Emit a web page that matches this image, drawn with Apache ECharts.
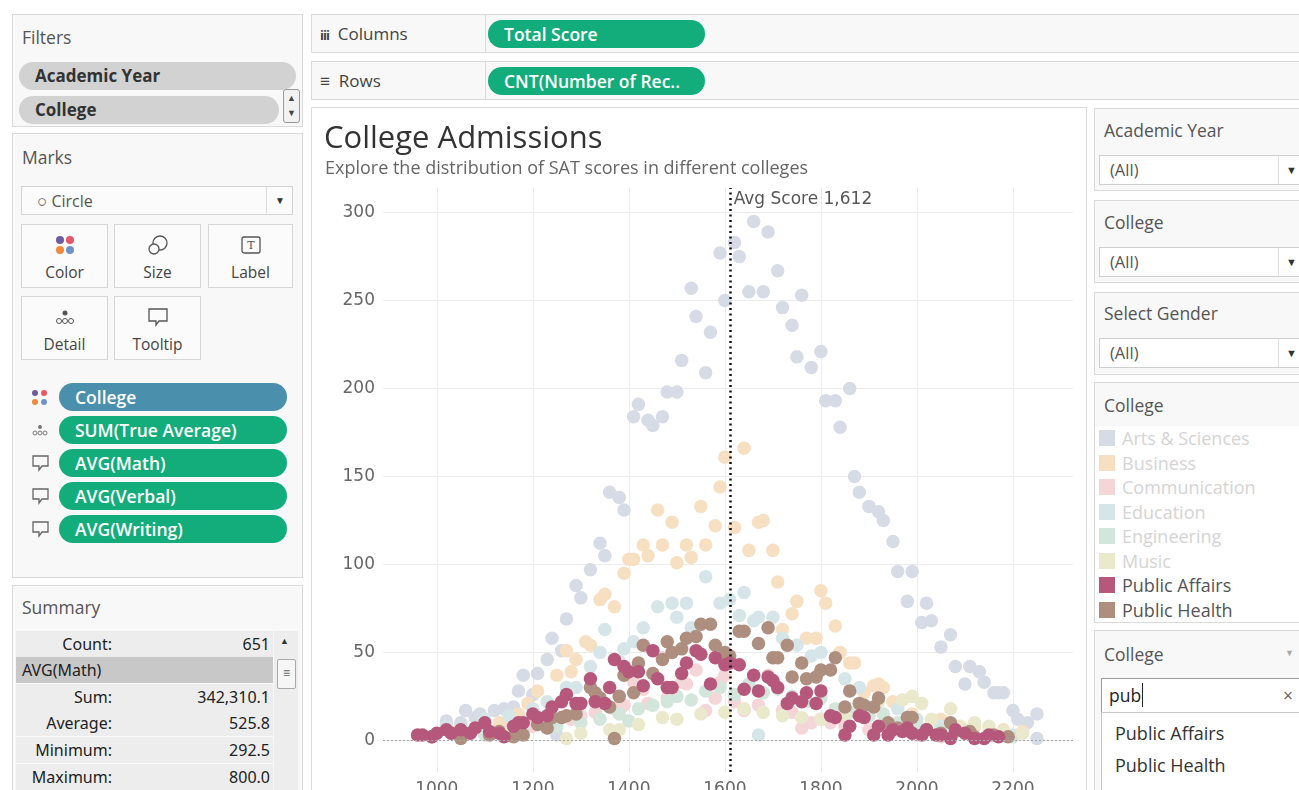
<!DOCTYPE html>
<html>
<head>
<meta charset="utf-8">
<script src="https://cdn.jsdelivr.net/npm/echarts@6/dist/echarts.min.js"></script>
<style>
  body { margin: 0; width: 1299px; height: 790px; overflow: hidden; background: #fff; position: relative;
         font-family: "Open Sans", sans-serif; color: #555; }
  .abs { position: absolute; }
  .card { position: absolute; box-sizing: border-box; border: 1px solid #dadada; background: #f8f8f8; }
  .ttl { position: absolute; font-size: 17.5px; color: #555; line-height: 20px; }
  .greypill { position: absolute; height: 28px; border-radius: 14px; background: #d2d2d2; color: #333;
              font-weight: 700; font-size: 17px; line-height: 28px; padding-left: 16px; box-sizing: border-box; }
  .pill { position: absolute; height: 28px; border-radius: 14px; background: #13ad7c; color: #fff;
          font-weight: 600; font-size: 17.5px; line-height: 28px; padding-left: 16px; box-sizing: border-box; white-space: nowrap; }
  .btn { position: absolute; height: 64px; box-sizing: border-box; border: 1px solid #d6d6d6; background: #fbfbfb;
         text-align: center; font-size: 15.5px; color: #444; }
  .btn svg { position: absolute; left: 50%; top: 9px; margin-left: -11px; }
  .btn span { position: absolute; left: 0; right: 0; bottom: 4px; }
  .sumrow { position: absolute; left: 16px; width: 257px; height: 26px; background: #ededed; font-family: "Noto Sans", sans-serif;
            font-size: 16px; color: #222; line-height: 26px; }
  .sumrow .l { position: absolute; right: 161px; }
  .sumrow .v { position: absolute; right: 3px; }
  .drop { position: absolute; left: 1099px; width: 210px; height: 30px; box-sizing: border-box; border: 1px solid #cfcfcf;
          background: #fff; font-size: 16.5px; color: #555; line-height: 28px; padding-left: 10px; }
  .drop:after { content: ""; position: absolute; left: 178px; top: 0; bottom: 0; border-left: 1px solid #e2e2e2; }
  .drop b { position: absolute; left: 186px; top: 0; font-size: 11px; color: #333; }
  .leg { position: absolute; left: 1099px; height: 20px; font-size: 18px; line-height: 20px; }
  .leg i { position: absolute; left: 0; top: 2px; width: 16px; height: 16px; }
  .leg span { position: absolute; left: 23px; white-space: nowrap; }
</style>
</head>
<body>
<!-- left: filters -->
<div class="card" style="left:12px;top:14px;width:291px;height:113px"></div>
<div class="ttl" style="left:22px;top:27px">Filters</div>
<div class="greypill" style="left:19px;top:62px;width:277px">Academic Year</div>
<div class="greypill" style="left:19px;top:96px;width:260px">College</div>
<div class="abs" style="left:283px;top:89px;width:17px;height:34px;border:1px solid #999;border-radius:3px;background:#f2f2f2;box-sizing:border-box;font-size:9px;line-height:15px;text-align:center;color:#444">▲<br>▼</div>

<!-- left: marks -->
<div class="card" style="left:12px;top:133px;width:291px;height:445px"></div>
<div class="ttl" style="left:22px;top:147px">Marks</div>
<div class="abs" style="left:21px;top:186px;width:272px;height:29px;border:1px solid #d3d3d3;background:#fbfbfb;box-sizing:border-box;font-size:16px;line-height:27px;color:#555;padding-left:15px"><span style="font-size:17px">○</span> Circle
  <span style="position:absolute;left:244px;top:0;bottom:0;border-left:1px solid #dedede"></span>
  <span style="position:absolute;left:253px;top:0;font-size:10px;color:#333">▼</span></div>
<div class="btn" style="left:21px;top:224px;width:87px">
  <svg width="22" height="22"><circle cx="6" cy="6" r="4" fill="#6f5a9c"/><circle cx="16" cy="6" r="4" fill="#e8566b"/><circle cx="6" cy="16" r="4" fill="#f08a3c"/><circle cx="16" cy="16" r="4" fill="#6f93c9"/></svg>
  <span>Color</span></div>
<div class="btn" style="left:114px;top:224px;width:87px">
  <svg width="22" height="22"><circle cx="13" cy="9" r="7" fill="none" stroke="#555" stroke-width="1.3"/><circle cx="7" cy="15" r="5" fill="#fbfbfb" stroke="#555" stroke-width="1.3"/></svg>
  <span>Size</span></div>
<div class="btn" style="left:208px;top:224px;width:85px">
  <svg width="22" height="22"><rect x="2" y="3" width="18" height="16" rx="2" fill="none" stroke="#555" stroke-width="1.3"/><text x="11" y="15" font-size="11" text-anchor="middle" fill="#555" font-family="DejaVu Serif">T</text></svg>
  <span>Label</span></div>
<div class="btn" style="left:21px;top:296px;width:87px">
  <svg width="22" height="22"><circle cx="11" cy="7" r="2.5" fill="#555"/><circle cx="5" cy="15" r="2.5" fill="none" stroke="#555"/><circle cx="11" cy="15" r="2.5" fill="none" stroke="#555"/><circle cx="17" cy="15" r="2.5" fill="none" stroke="#555"/></svg>
  <span>Detail</span></div>
<div class="btn" style="left:114px;top:296px;width:87px">
  <svg width="22" height="22"><path d="M2 3 H20 V15 H12 L9 19 V15 H2 Z" fill="none" stroke="#555" stroke-width="1.3"/></svg>
  <span>Tooltip</span></div>

<svg class="abs" style="left:31px;top:389px" width="18" height="18"><circle cx="4" cy="4" r="3" fill="#6f5a9c"/><circle cx="13" cy="4" r="3" fill="#e8566b"/><circle cx="4" cy="13" r="3" fill="#f08a3c"/><circle cx="13" cy="13" r="3" fill="#6f93c9"/></svg>
<div class="pill" style="left:59px;top:383px;width:228px;background:#4a8fab">College</div>
<svg class="abs" style="left:31px;top:422px" width="18" height="16"><circle cx="9" cy="5" r="2" fill="#777"/><circle cx="4" cy="11" r="2" fill="none" stroke="#777"/><circle cx="9" cy="11" r="2" fill="none" stroke="#777"/><circle cx="14" cy="11" r="2" fill="none" stroke="#777"/></svg>
<div class="pill" style="left:59px;top:416px;width:228px">SUM(True Average)</div>
<svg class="abs" style="left:32px;top:454px" width="18" height="18"><path d="M1 2 H16 V12 H10 L7 16 V12 H1 Z" fill="none" stroke="#666" stroke-width="1.3"/></svg>
<div class="pill" style="left:59px;top:449px;width:228px">AVG(Math)</div>
<svg class="abs" style="left:32px;top:487px" width="18" height="18"><path d="M1 2 H16 V12 H10 L7 16 V12 H1 Z" fill="none" stroke="#666" stroke-width="1.3"/></svg>
<div class="pill" style="left:59px;top:482px;width:228px">AVG(Verbal)</div>
<svg class="abs" style="left:32px;top:520px" width="18" height="18"><path d="M1 2 H16 V12 H10 L7 16 V12 H1 Z" fill="none" stroke="#666" stroke-width="1.3"/></svg>
<div class="pill" style="left:59px;top:515px;width:228px">AVG(Writing)</div>

<!-- left: summary -->
<div class="card" style="left:12px;top:585px;width:291px;height:220px"></div>
<div class="ttl" style="left:22px;top:597px">Summary</div>
<div class="sumrow" style="top:631px"><span class="l">Count:</span><span class="v">651</span></div>
<div class="sumrow" style="top:657px;background:#c8c8c8"><span style="position:absolute;left:6px">AVG(Math)</span></div>
<div class="sumrow" style="top:684px"><span class="l">Sum:</span><span class="v">342,310.1</span></div>
<div class="sumrow" style="top:710px"><span class="l">Average:</span><span class="v">525.8</span></div>
<div class="sumrow" style="top:737px"><span class="l">Minimum:</span><span class="v">292.5</span></div>
<div class="sumrow" style="top:764px"><span class="l">Maximum:</span><span class="v">800.0</span></div>
<div class="abs" style="left:274px;top:631px;width:24px;height:160px;background:#ededed"></div>
<div class="abs" style="left:280px;top:634px;font-size:9px;color:#333">▲</div>
<div class="abs" style="left:277px;top:659px;width:19px;height:30px;border:1px solid #aaa;border-radius:2px;background:#f6f6f6;box-sizing:border-box;text-align:center;font-size:12px;line-height:26px;color:#666">≡</div>

<!-- shelves -->
<div class="card" style="left:311px;top:14px;width:992px;height:39px"></div>
<div class="abs" style="left:320px;top:22px;font-size:17px;color:#444"><b style="font-size:13px;letter-spacing:-1px">iii</b>&nbsp;&nbsp;Columns</div>
<div class="abs" style="left:485px;top:15px;height:37px;border-left:1px solid #dadada"></div>
<div class="pill" style="left:488px;top:20px;width:217px">Total Score</div>
<div class="card" style="left:311px;top:61px;width:992px;height:39px"></div>
<div class="abs" style="left:320px;top:69px;font-size:17px;color:#444">≡&nbsp;&nbsp;Rows</div>
<div class="abs" style="left:485px;top:62px;height:37px;border-left:1px solid #dadada"></div>
<div class="pill" style="left:488px;top:67px;width:217px">CNT(Number of Rec..</div>

<!-- chart panel -->
<div class="abs" style="left:311px;top:107px;width:776px;height:700px;background:#fff;border:1px solid #dcdcdc;box-sizing:border-box"></div>
<div id="chart" class="abs" style="left:311px;top:107px;width:775px;height:720px"></div>

<!-- right panel -->
<div class="card" style="left:1094px;top:108px;width:215px;height:83px"></div>
<div class="ttl" style="left:1104px;top:120px">Academic Year</div>
<div class="drop" style="top:155px">(All)<b>▼</b></div>
<div class="card" style="left:1094px;top:200px;width:215px;height:83px"></div>
<div class="ttl" style="left:1104px;top:212px">College</div>
<div class="drop" style="top:247px">(All)<b>▼</b></div>
<div class="card" style="left:1094px;top:292px;width:215px;height:83px"></div>
<div class="ttl" style="left:1104px;top:303px">Select Gender</div>
<div class="drop" style="top:338px">(All)<b>▼</b></div>
<div class="card" style="left:1094px;top:382px;width:215px;height:241px"></div>
<div class="abs" style="left:1095px;top:426px;width:214px;height:196px;background:#fff"></div>
<div class="ttl" style="left:1104px;top:395px">College</div>
<div id="legend"></div>
<div class="card" style="left:1094px;top:630px;width:215px;height:175px"></div>
<div class="ttl" style="left:1104px;top:644px">College</div>
<div class="abs" style="left:1285px;top:646px;font-size:9px;color:#aaa">▼</div>
<div class="abs" style="left:1101px;top:678px;width:210px;height:35px;border:1px solid #9a9a9a;background:#fff;box-sizing:border-box;font-size:17.5px;line-height:33px;padding-left:7px;color:#222">pub<span style="border-left:1px solid #222;margin-left:1px"></span><span style="position:absolute;left:181px;color:#666">×</span></div>
<div class="abs" style="left:1101px;top:712px;width:210px;height:85px;border:1px solid #c8c8c8;background:#fff;box-sizing:border-box"></div>
<div class="abs" style="left:1115px;top:721px;font-size:18px;color:#333">Public Affairs</div>
<div class="abs" style="left:1115px;top:753px;font-size:18px;color:#333">Public Health</div>

<script>
// colleges and their (muted) colours as shown in the legend
const colleges = ['Arts & Sciences', 'Business', 'Communication', 'Education', 'Engineering', 'Music', 'Public Affairs', 'Public Health'];
const palette = ['#d6dbe6', '#f7dfc2', '#f4d5d8', '#d6e6e8', '#d3e6dc', '#ebe9cc', '#b6587c', '#ad8e7f'];
const faded = [true, true, true, true, true, true, false, false];

// [total score, count of records] per college
const artsSciences = [[1020,11],[1050,10],[1060,17],[1080,13],[1090,15],[1120,17],[1140,18],[1160,19],[1170,28],[1180,37],
  [1200,26],[1210,38],[1230,46],[1240,58],[1250,3],[1260,51],[1270,69],[1290,88],[1300,81],[1320,97],[1340,112],[1350,105],
  [1360,141],[1380,138],[1390,131],[1410,184],[1420,191],[1440,182],[1450,179],[1470,184],[1480,198],[1500,198],[1510,216],
  [1530,257],[1540,241],[1560,209],[1570,232],[1590,277],[1600,250],[1620,283],[1630,275],[1650,255],[1660,295],[1680,255],
  [1690,289],[1710,267],[1720,246],[1740,236],[1750,218],[1760,253],[1780,212],[1800,221],[1810,193],[1830,193],[1840,178],
  [1860,200],[1870,150],[1880,141],[1900,133],[1920,130],[1930,125],[1950,113],[1960,96],[1980,79],[1990,96],[2010,67],
  [2020,78],[2030,68],[2050,53],[2070,60],[2080,42],[2100,32],[2110,42],[2130,39],[2140,33],[2160,27],[2170,27],[2180,27],
  [2200,17],[2210,12],[2230,10],[2250,15],[2250,1]];
const business = [[1040,5],[1100,8],[1130,10],[1150,12],[1170,15],[1190,21],[1210,28],[1250,37],[1270,51],[1280,39],[1290,46],
  [1310,56],[1320,54],[1340,80],[1350,83],[1370,76],[1390,95],[1400,103],[1410,103],[1430,111],[1440,105],[1460,131],[1470,111],
  [1490,124],[1500,101],[1520,111],[1530,104],[1550,133],[1560,111],[1580,122],[1590,144],[1600,161],[1620,121],[1640,166],
  [1650,108],[1670,124],[1680,125],[1700,108],[1710,90],[1720,63],[1740,72],[1750,79],[1770,58],[1790,58],[1800,85],[1810,78],
  [1830,65],[1840,50],[1860,44],[1870,44],[1890,27],[1910,31],[1920,32],[1930,30],[1950,22],[1990,15],[2050,12],[2120,8],
  [2180,6],[2220,5]];
const communication = [[1050,3],[1100,5],[1150,6],[1200,8],[1240,10],[1280,12],[1300,14],[1330,16],[1370,18],[1390,20],[1410,33],
  [1430,29],[1440,21],[1470,47],[1480,24],[1510,33],[1520,32],[1540,40],[1560,17],[1580,24],[1590,33],[1600,37],[1620,22],
  [1640,17],[1670,20],[1690,37],[1720,17],[1740,16],[1760,7],[1780,10],[1800,12],[1820,10],[1850,8],[1900,6],[1950,5],
  [2000,3],[2050,2]];
const education = [[1020,8],[1060,5],[1100,12],[1150,14],[1200,18],[1230,22],[1270,30],[1290,30],[1320,42],[1340,50],[1350,63],
  [1380,45],[1390,52],[1410,56],[1430,64],[1460,76],[1490,78],[1500,70],[1520,78],[1530,64],[1560,93],[1590,78],[1610,80],
  [1630,71],[1640,84],[1660,68],[1670,70],[1670,3],[1700,70],[1720,58],[1750,54],[1780,48],[1800,50],[1850,35],[1880,30],
  [1920,24],[1960,18],[2000,12],[2050,8],[2100,6],[2150,4],[2200,3]];
const engineering = [[1100,3],[1180,5],[1250,8],[1300,10],[1340,12],[1380,15],[1400,11],[1420,18],[1450,20],[1480,22],[1500,25],
  [1530,23],[1560,28],[1590,30],[1620,26],[1650,32],[1680,27],[1710,29],[1740,25],[1770,22],[1800,24],[1830,18],[1860,16],
  [1900,14],[1930,15],[1960,10],[2000,9],[2050,6],[2100,5],[2150,4],[2200,2]];
const music = [[1050,2],[1150,4],[1270,1],[1300,4],[1360,6],[1380,6],[1420,9],[1470,13],[1500,12],[1550,15],[1600,16],[1640,18],
  [1680,16],[1720,14],[1760,13],[1800,12],[1850,15],[1880,20],[1920,22],[1970,23],[1990,25],[2010,21],[2030,12],[2070,18],
  [2090,8],[2120,10],[2150,8],[2180,5],[2220,4]];
const publicAffairs = [[960,3],[970,3],[990,2],[1000,4],[1020,6],[1030,4],[1050,6],[1070,4],[1080,7],[1100,10],[1110,5],[1130,4],
  [1140,2],[1160,8],[1170,10],[1180,10],[1200,15],[1210,13],[1230,14],[1240,19],[1260,22],[1270,26],[1290,21],[1300,21],
  [1320,35],[1330,22],[1350,21],[1360,30],[1370,46],[1390,42],[1400,39],[1420,39],[1430,31],[1450,51],[1460,35],[1480,30],
  [1490,30],[1510,38],[1520,44],[1540,51],[1550,49],[1570,32],[1580,47],[1600,43],[1610,44],[1630,43],[1640,29],[1660,37],
  [1670,28],[1690,36],[1700,34],[1710,30],[1730,21],[1740,24],[1760,22],[1770,27],[1790,21],[1800,28],[1820,14],[1830,13],
  [1850,3],[1860,8],[1880,14],[1890,13],[1910,3],[1920,8],[1940,3],[1950,6],[1970,5],[1980,7],[1990,4],[2010,3],[2020,6],
  [2040,3],[2050,3],[2070,1],[2080,6],[2100,4],[2120,1],[2140,1],[2150,3],[2170,2]];
const publicHealth = [[990,2],[1050,1],[1110,3],[1130,5],[1160,2],[1180,3],[1210,9],[1230,7],[1240,13],[1260,13],[1270,14],
  [1290,15],[1320,30],[1330,27],[1340,24],[1360,19],[1370,1],[1380,25],[1390,37],[1410,27],[1420,44],[1430,54],[1450,38],
  [1470,46],[1480,56],[1490,50],[1510,52],[1520,58],[1540,59],[1550,66],[1570,66],[1580,54],[1600,50],[1610,48],[1630,62],
  [1640,62],[1670,55],[1690,64],[1700,47],[1710,47],[1730,54],[1740,36],[1760,44],[1770,35],[1790,36],[1800,40],[1820,40],
  [1830,47],[1850,19],[1860,28],[1880,21],[1890,20],[1910,19],[1920,24],[1940,10],[1960,7],[1980,13],[1990,13],[2020,6],
  [2050,4],[2070,10],[2080,5],[2110,5],[2120,2],[2160,3],[2190,2]];

const avgScore = 1612;
const xTicks = [1000, 1200, 1400, 1600, 1800, 2000, 2200];
const yTicks = [0, 50, 100, 150, 200, 250, 300];

const seriesData = [artsSciences, business, communication, education, engineering, music, publicAffairs, publicHealth];
// draw order: faded colleges first, then Public Health, then Public Affairs on top
const drawOrder = [0, 1, 2, 3, 4, 5, 7, 6];

// legend on the right
let legendHtml = '';
colleges.forEach((name, i) => {
  const top = 428 + i * 24.5;
  legendHtml += '<div class="leg" style="top:' + top + 'px"><i style="background:' + palette[i] + '"></i>' +
    '<span style="color:' + (faded[i] ? '#d4d4d4' : '#555') + '">' + name + '</span></div>';
});
document.getElementById('legend').innerHTML = legendHtml;

const chart = echarts.init(document.getElementById('chart'));

const series = drawOrder.map(i => ({
  name: colleges[i],
  type: 'scatter',
  data: seriesData[i],
  symbolSize: 13.5,
  itemStyle: { color: palette[i], opacity: 1 },
  silent: true
}));

// zero line, average line and its label
series.push({
  type: 'scatter',
  data: [],
  markLine: {
    silent: true,
    symbol: ['none', 'none'],
    label: { show: false },
    data: [
      { yAxis: 0, lineStyle: { color: '#a8a8a8', type: [2, 2], width: 1 } },
      { xAxis: avgScore, lineStyle: { color: '#111', type: [2, 3.5], width: 2.5 } }
    ]
  },
  markPoint: {
    silent: true,
    symbol: 'circle',
    symbolSize: 0,
    data: [{ coord: [avgScore, 307.5] }],
    label: {
      show: true, position: 'right', distance: 3,
      formatter: 'Avg Score 1,612',
      color: '#555', fontSize: 17, fontFamily: 'DejaVu Sans'
    }
  }
});

chart.setOption({
  animation: false,
  title: [
    { text: 'College Admissions', left: 13, top: 17, padding: 0,
      textStyle: { fontSize: 31, fontWeight: 'normal', color: '#333', fontFamily: 'Open Sans' } },
    { text: 'Explore the distribution of SAT scores in different colleges', left: 14, top: 53, padding: 0,
      textStyle: { fontSize: 18, fontWeight: 'normal', color: '#666', fontFamily: 'Open Sans' } }
  ],
  grid: { left: 72, right: 13, top: 81, bottom: 55 },
  xAxis: {
    type: 'value', min: 888, max: 2325,
    axisLine: { show: false },
    axisTick: { show: false, customValues: xTicks },
    axisLabel: { customValues: xTicks, formatter: v => String(v), color: '#666', fontSize: 17, fontFamily: 'DejaVu Sans', margin: 9 },
    splitLine: { show: true, lineStyle: { color: '#ececec', width: 1 } }
  },
  yAxis: {
    type: 'value', min: -18, max: 314,
    axisLine: { show: false },
    axisTick: { show: false, customValues: yTicks },
    axisLabel: { customValues: yTicks, color: '#666', fontSize: 17, fontFamily: 'DejaVu Sans', margin: 8 },
    splitLine: { show: true, lineStyle: { color: '#ececec', width: 1 } }
  },
  series: series
});
</script>
</body>
</html>
